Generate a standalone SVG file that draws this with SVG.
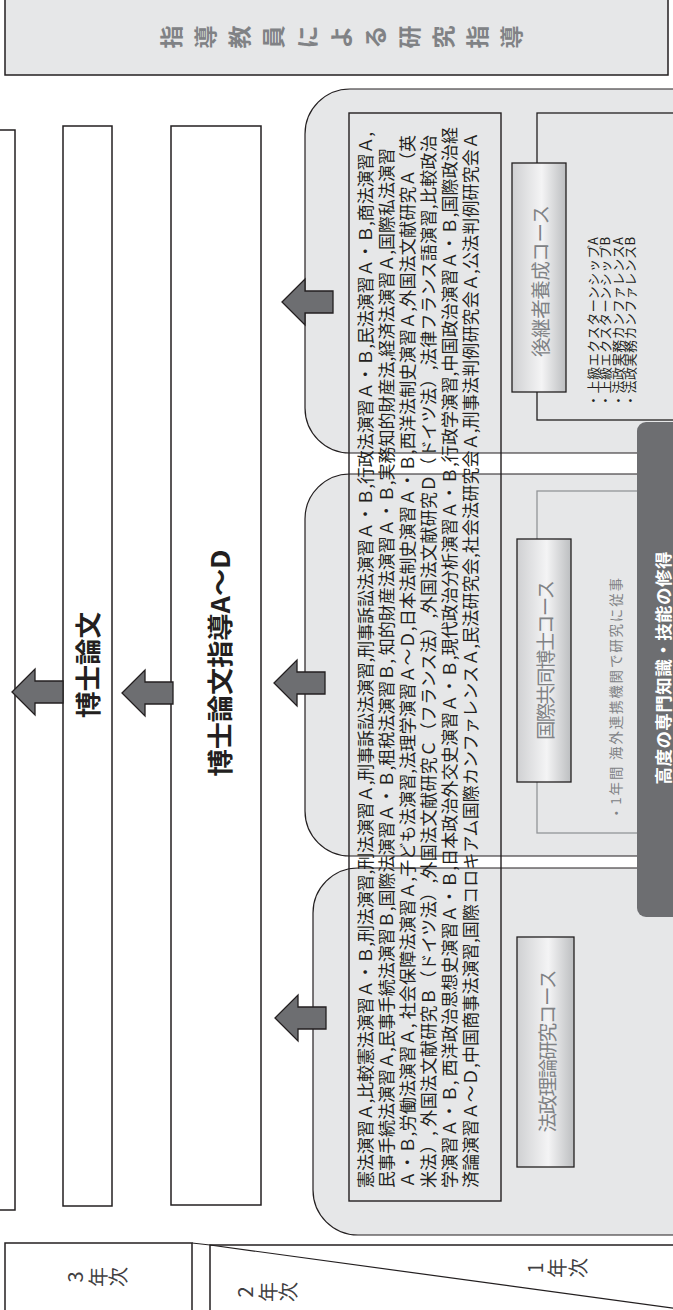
<svg xmlns="http://www.w3.org/2000/svg" width="673" height="1310" viewBox="0 0 673 1310">
<defs>
<style>
.jp{font-family:"Noto Sans CJK JP","Noto Sans CJK SC",sans-serif}
.box{fill:#ffffff;stroke:#231f20;stroke-width:1.5}
.panel{fill:#e6e7e8;stroke:#231f20;stroke-width:1.2}
.arrow{fill:#6d6e71;stroke:#231f20;stroke-width:1.3;stroke-linejoin:miter}
.lab{fill:url(#lg);stroke:#231f20;stroke-width:1.3}
.lt{font-size:19.5px;fill:#808285}
.body{font-size:17px;fill:#231f20}
.small{font-size:13px;fill:#231f20}
.v{text-anchor:middle;dominant-baseline:central}
.s{dominant-baseline:central}
.title{font-size:23px;font-weight:bold;fill:#808285}
.year{font-size:20px;fill:#414042}
.big{font-size:26px;font-weight:bold;fill:#231f20}
</style>
<linearGradient id="lg" x1="0" x2="1" y1="0" y2="0">
<stop offset="0" stop-color="#cfd0d2"/>
<stop offset="0.55" stop-color="#f4f4f5"/>
<stop offset="1" stop-color="#bcbec0"/>
</linearGradient>
<path id="arr" d="M0,0 L23,-23 L23,-11 L51,-11 L51,11 L23,11 L23,23 Z"/>
</defs>

<g id="supervision">
<rect x="5" y="-10" width="663" height="85" fill="#e6e7e8" stroke="#231f20" stroke-width="1.5"/>
<g class="jp title v">
<text x="170" y="37" transform="rotate(-90 170 37)">指</text>
<text x="204" y="37" transform="rotate(-90 204 37)">導</text>
<text x="238" y="37" transform="rotate(-90 238 37)">教</text>
<text x="272" y="37" transform="rotate(-90 272 37)">員</text>
<text x="306" y="37" transform="rotate(-90 306 37)">に</text>
<text x="340" y="37" transform="rotate(-90 340 37)">よ</text>
<text x="374" y="37" transform="rotate(-90 374 37)">る</text>
<text x="408" y="37" transform="rotate(-90 408 37)">研</text>
<text x="442" y="37" transform="rotate(-90 442 37)">究</text>
<text x="476" y="37" transform="rotate(-90 476 37)">指</text>
<text x="510" y="37" transform="rotate(-90 510 37)">導</text>
</g>
</g>

<g id="degree">
<rect class="box" x="-10" y="130" width="25" height="1080"/>
</g>

<g id="thesis">
<rect class="box" x="63" y="126" width="49" height="1080"/>
<text class="jp big v" transform="translate(86,665) rotate(-90)" textLength="106" lengthAdjust="spacingAndGlyphs">博士論文</text>
</g>

<g id="thesis-guidance">
<rect class="box" x="171" y="126" width="90" height="1079"/>
<text class="jp big v" transform="translate(218,663) rotate(-90)" textLength="227" lengthAdjust="spacingAndGlyphs">博士論文指導A～D</text>
</g>

<g id="panel-successor">
<rect class="panel" x="305" y="89" width="420" height="364" rx="45" ry="45"/>
</g>
<g id="panel-international">
<rect class="panel" x="305" y="474" width="420" height="382" rx="45" ry="45"/>
</g>
<g id="panel-theory">
<rect class="panel" x="313" y="868" width="420" height="367" rx="45" ry="45"/>
</g>

<g id="subjects">
<rect x="349" y="113" width="152" height="1088" fill="none" stroke="#231f20" stroke-width="1.4"/>
<g class="jp body s">
<text transform="translate(364,1188) rotate(-90)" textLength="1056" lengthAdjust="spacing">憲法演習Ａ,比較憲法演習Ａ・Ｂ,刑法演習,刑法演習Ａ,刑事訴訟法演習,刑事訴訟法演習Ａ・Ｂ,行政法演習Ａ・Ｂ,民法演習Ａ・Ｂ,商法演習Ａ,</text>
<text transform="translate(385,1188) rotate(-90)" textLength="1040" lengthAdjust="spacing">民事手続法演習Ａ,民事手続法演習Ｂ,国際法演習Ａ・Ｂ,租税法演習Ｂ, 知的財産法演習Ａ・Ｂ,実務知的財産法,経済法演習Ａ,国際私法演習</text>
<text transform="translate(406,1188) rotate(-90)" textLength="1053" lengthAdjust="spacing">Ａ・Ｂ,労働法演習Ａ, 社会保障法演習Ａ,子ども法演習,法理学演習Ａ～Ｄ,日本法制史演習Ａ・Ｂ,西洋法制史演習Ａ,外国法文献研究Ａ（英</text>
<text transform="translate(427,1188) rotate(-90)" textLength="1053" lengthAdjust="spacing">米法）, 外国法文献研究Ｂ（ドイツ法）,外国法文献研究Ｃ（フランス法）,外国法文献研究Ｄ（ドイツ法）,法律フランス語演習,比較政治</text>
<text transform="translate(448,1188) rotate(-90)" textLength="1061" lengthAdjust="spacing">学演習Ａ・Ｂ, 西洋政治思想史演習Ａ・Ｂ,日本政治外交史演習Ａ・Ｂ,現代政治分析演習Ａ・Ｂ,行政学演習,中国政治演習Ａ・Ｂ,国際政治経</text>
<text transform="translate(469,1188) rotate(-90)" textLength="1056" lengthAdjust="spacing">済論演習Ａ～Ｄ,中国商事法演習,国際コロキアム国際カンファレンスＡ,民法研究会,社会法研究会Ａ,刑事法判例研究会Ａ,公法判例研究会Ａ</text>
</g>
</g>

<g id="successor-course">
<rect x="537" y="113" width="200" height="307" fill="none" stroke="#231f20" stroke-width="1.3"/>
<rect class="lab" x="512" y="163" width="54" height="229"/>
<text class="jp lt v" transform="translate(539,281) rotate(-90)" textLength="152" lengthAdjust="spacing">後継者養成コース</text>
<g class="jp small s">
<text transform="translate(592,407) rotate(-90)" textLength="170" lengthAdjust="spacing">・上級エクスターンシップA</text>
<text transform="translate(604.5,407) rotate(-90)" textLength="170" lengthAdjust="spacing">・上級エクスターンシップB</text>
<text transform="translate(617,407) rotate(-90)" textLength="170" lengthAdjust="spacing">・法政実務カンファレンスA</text>
<text transform="translate(629.5,407) rotate(-90)" textLength="170" lengthAdjust="spacing">・法政実務カンファレンスB</text>
</g>
</g>

<g id="international-course">
<rect x="537" y="491" width="200" height="342" fill="none" stroke="#939598" stroke-width="1.3"/>
<rect class="lab" x="517" y="539" width="54" height="243"/>
<text class="jp lt v" transform="translate(544,660) rotate(-90)" textLength="160" lengthAdjust="spacing">国際共同博士コース</text>
<text class="jp s" font-size="13.5" fill="#808285" transform="translate(615,820) rotate(-90)" textLength="242" lengthAdjust="spacing">・1年間 海外連携機関で研究に従事</text>
</g>

<g id="theory-course">
<rect class="lab" x="517" y="937" width="57" height="230"/>
<text class="jp lt v" transform="translate(546,1051) rotate(-90)" textLength="163" lengthAdjust="spacing">法政理論研究コース</text>
</g>

<g id="expertise">
<rect x="637" y="422" width="60" height="495" rx="9" ry="9" fill="#6d6e71"/>
<text class="jp v" font-size="17.5" font-weight="bold" fill="#ffffff" transform="translate(662,668) rotate(-90)" textLength="233" lengthAdjust="spacing">高度の専門知識・技能の修得</text>
</g>

<g id="year3">
<rect class="box" x="5" y="1243" width="187" height="80" stroke-width="1.3"/>
<g class="jp year v">
<text x="74" y="1277" transform="rotate(-90 74 1277)">3</text>
<text x="97" y="1277" transform="rotate(-90 97 1277)">年</text>
<text x="117" y="1277" transform="rotate(-90 117 1277)">次</text>
</g>
</g>

<g id="year12">
<rect class="box" x="210" y="1245" width="480" height="80" stroke-width="1.3"/>
<line x1="210" y1="1245" x2="690" y2="1310.5" stroke="#231f20" stroke-width="1.2"/>
<g class="jp year v">
<text x="244" y="1292" transform="rotate(-90 244 1292)">2</text>
<text x="267" y="1292" transform="rotate(-90 267 1292)">年</text>
<text x="287" y="1292" transform="rotate(-90 287 1292)">次</text>
<text x="534" y="1268" transform="rotate(-90 534 1268)">1</text>
<text x="556" y="1268" transform="rotate(-90 556 1268)">年</text>
<text x="577" y="1268" transform="rotate(-90 577 1268)">次</text>
</g>
</g>

<g id="connectors">
<line x1="192" y1="1243" x2="210" y2="1245" stroke="#231f20" stroke-width="1"/>
<use href="#arr" class="arrow" transform="translate(12,692)"/>
<use href="#arr" class="arrow" transform="translate(122,693)"/>
<use href="#arr" class="arrow" transform="translate(282,302)"/>
<use href="#arr" class="arrow" transform="translate(274,683)"/>
<use href="#arr" class="arrow" transform="translate(275,1018)"/>
</g>
</svg>
